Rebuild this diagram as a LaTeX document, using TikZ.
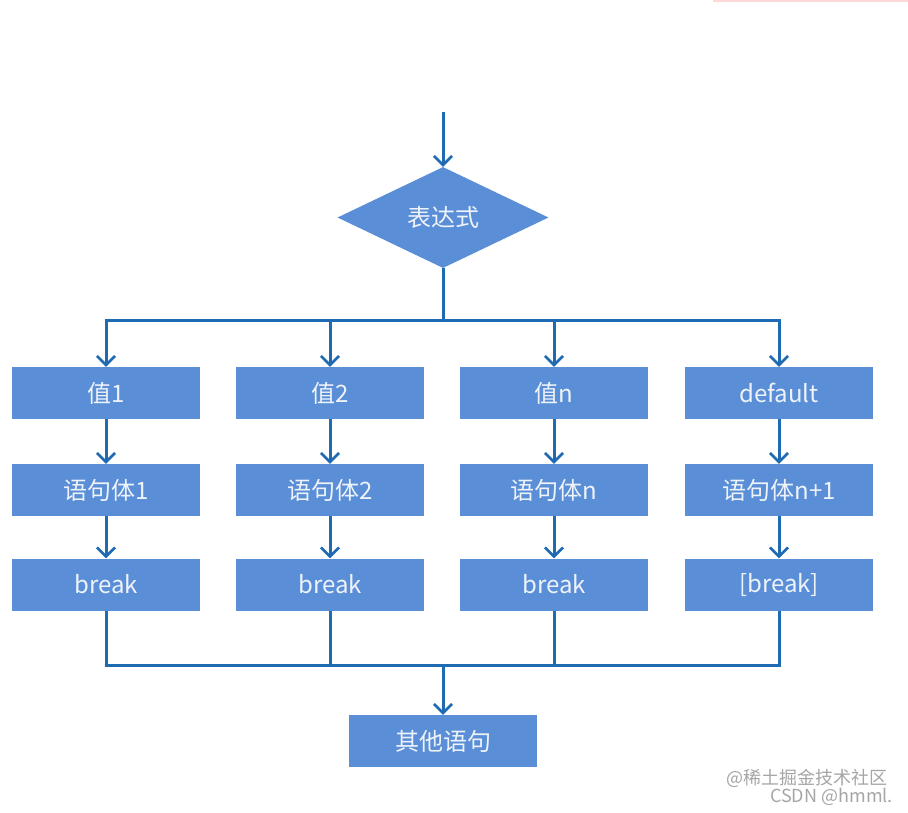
\documentclass[tikz,border=0pt]{standalone}
\usepackage{fontspec}
\setmainfont{Noto Sans CJK SC}
\newfontfamily\wmfont{Noto Sans CJK SC}
\usetikzlibrary{shapes.geometric,arrows.meta}
\definecolor{boxblue}{HTML}{5A8ED6}
\definecolor{lineblue}{HTML}{1E6BB4}
\definecolor{txtwhite}{HTML}{EEF3FA}
\tikzset{
  stepbox/.style={rectangle, fill=boxblue, minimum width=188pt, minimum height=52pt, inner sep=0pt, text=txtwhite, font=\fontsize{24pt}{28pt}\selectfont},
  decide/.style={diamond, fill=boxblue, minimum width=211pt, minimum height=101pt, inner sep=0pt, aspect=2.09, text=txtwhite, font=\fontsize{24pt}{28pt}\selectfont},
  conn/.style={draw=lineblue, line width=3pt},
  arr/.style={conn, -{Straight Barb[length=9pt, width=18pt, line width=2.6pt]}},
  wmark/.style={anchor=east, text=black!35, font=\wmfont\fontsize{18pt}{19pt}\selectfont, inner sep=0pt},
}
\begin{document}
\begin{tikzpicture}[x=1pt, y=-1pt]
\useasboundingbox (0,0) rectangle (908,812);
\fill[white] (0,0) rectangle (908,812);
\draw[color=red!15, line width=2pt] (713,1) -- (908,1);
% diamond
\node[decide] (expr) at (443,217.5) {表达式};
\coordinate (start) at (443,112);
\draw[arr] (start) -- (expr.north);
% column boxes
\foreach \i/\x/\a/\b/\c in {1/106/值1/语句体1/break, 2/330/值2/语句体2/break, 3/554/值n/语句体n/break, 4/779/default/语句体n+1/[break]}{
  \node[stepbox] (v\i) at (\x,393) {\a};
  \node[stepbox] (s\i) at (\x,490) {\b};
  \node[stepbox] (b\i) at (\x,584.5) {\c};
  \coordinate (t\i) at (\x,320);
  \coordinate (u\i) at (\x,665);
  \draw[arr] (t\i) -- (v\i.north);
  \draw[arr] (v\i.south) -- (s\i.north);
  \draw[arr] (s\i.south) -- (b\i.north);
  \draw[conn] (b\i.south) -- (u\i);
}
\coordinate (bus) at (443,320);
\draw[conn] (expr.south) -- (bus);
\draw[conn] ([xshift=-1.5pt]t1) -- ([xshift=1.5pt]t4);
\draw[conn] ([xshift=-1.5pt]u1) -- ([xshift=1.5pt]u4);
\node[stepbox] (other) at (443,741) {其他语句};
\coordinate (join) at (443,665);
\draw[arr] (join) -- (other.north);
% watermark
\node[wmark] (wm1) at (888,778) {@稀土掘金技术社区};
\node[wmark] (wm2) at (893,797) {CSDN @hmml.};
\end{tikzpicture}
\end{document}
